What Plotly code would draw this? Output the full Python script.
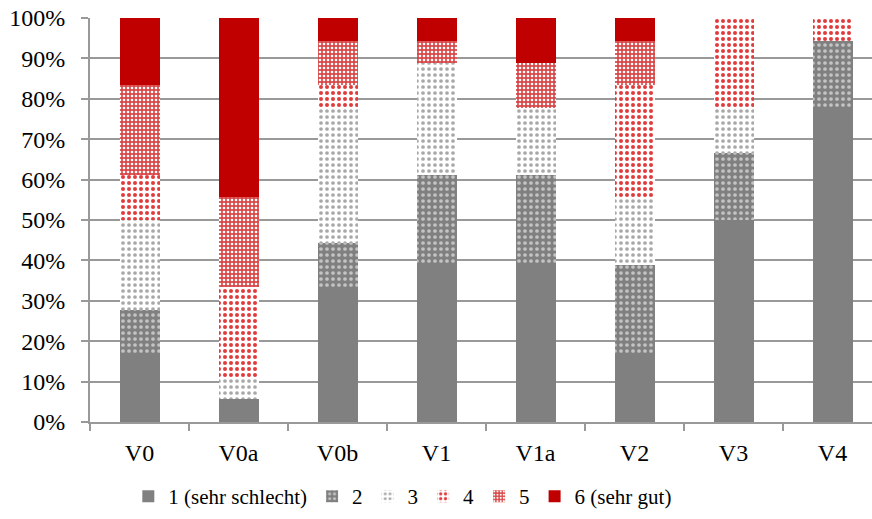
import plotly.graph_objects as go

categories = ["V0", "V0a", "V0b", "V1", "V1a", "V2", "V3", "V4"]
series_names = ["1 (sehr schlecht)", "2", "3", "4", "5", "6 (sehr gut)"]
s1 = [16.7, 5.6, 33.3, 38.9, 38.9, 16.7, 50.0, 77.8]
s2 = [11.1, 0.0, 11.1, 22.2, 22.2, 22.2, 16.7, 16.6]
s3 = [22.2, 5.5, 33.4, 27.8, 16.7, 16.7, 11.1, 0.0]
s4 = [11.1, 22.2, 5.5, 0.0, 0.0, 27.7, 22.2, 5.6]
s5 = [22.2, 22.3, 11.1, 5.5, 11.1, 11.1, 0.0, 0.0]
s6 = [16.7, 44.4, 5.6, 5.6, 11.1, 5.6, 0.0, 0.0]
values = [s1, s2, s3, s4, s5, s6]
y_ticks = [0, 10, 20, 30, 40, 50, 60, 70, 80, 90, 100]

styles = [
    dict(color="#808080"),
    dict(color="#808080", pattern=dict(shape=".", bgcolor="#808080", fgcolor="#c4c4c4", size=6, solidity=0.3, fillmode="replace")),
    dict(color="#ffffff", pattern=dict(shape=".", bgcolor="#ffffff", fgcolor="#a8a8a8", size=6, solidity=0.3, fillmode="replace")),
    dict(color="#ffffff", pattern=dict(shape=".", bgcolor="#ffffff", fgcolor="#e03c3c", size=6, solidity=0.35, fillmode="replace")),
    dict(color="#d84848", pattern=dict(shape=".", bgcolor="#d84848", fgcolor="#ffffff", size=4, solidity=0.35, fillmode="replace")),
    dict(color="#c00000"),
]

FONT = "Liberation Serif"

fig = go.Figure()
for name, vals, st in zip(series_names, values, styles):
    m = dict(st)
    m["line"] = dict(width=0)
    fig.add_trace(go.Bar(name=name, x=categories, y=vals, marker=m, width=0.404))

fig.update_layout(
    barmode="stack",
    width=872, height=519,
    margin=dict(l=90, r=0, t=18, b=97, autoexpand=False),
    plot_bgcolor="white", paper_bgcolor="white",
    font=dict(family=FONT, size=21, color="black"),
    showlegend=True,
    legend=dict(orientation="h", x=0.049, xanchor="left", y=-0.134, yanchor="top",
                font=dict(family=FONT, size=21), traceorder="normal", itemwidth=30),
    xaxis=dict(range=[-0.5, 7.399], tickson="boundaries", ticks="outside", ticklen=7,
               tickcolor="#999999", tickwidth=2, showline=True, linecolor="#999999", linewidth=2,
               showgrid=False, fixedrange=True, tickfont=dict(family=FONT, size=24),
               ticklabelstandoff=8),
    yaxis=dict(range=[0, 100], tickvals=y_ticks, ticktext=[f"{v}%" for v in y_ticks],
               ticks="outside", ticklen=7, tickcolor="#999999", tickwidth=2,
               showline=True, linecolor="#999999", linewidth=2,
               showgrid=True, gridcolor="#999999", gridwidth=2, zeroline=False,
               tickfont=dict(family=FONT, size=24), ticklabelstandoff=11),
)
fig.write_html("out.html", config={"displayModeBar": False},
               post_script="document.body.style.margin='0';document.body.style.overflow='hidden';")
